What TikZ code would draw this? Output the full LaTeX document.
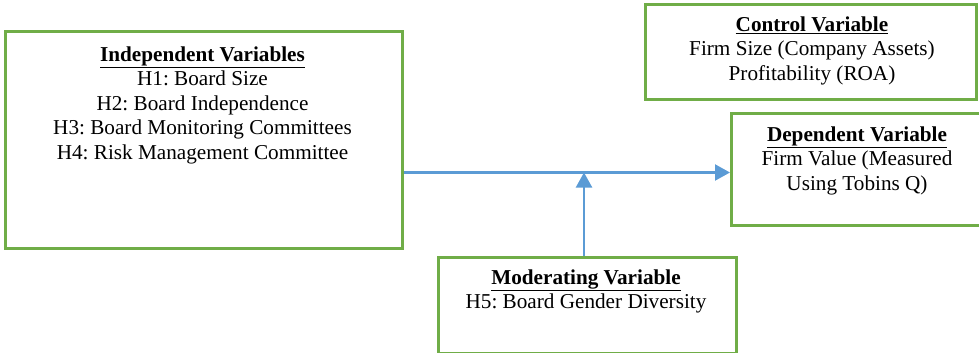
\documentclass[tikz,border=0pt]{standalone}
\usepackage{fontspec}
\setmainfont{Liberation Serif}
\usetikzlibrary{arrows.meta}
\definecolor{boxgreen}{HTML}{70AD47}
\definecolor{arrblue}{HTML}{5B9BD5}
\frenchspacing
\tikzset{
  varbox/.style={draw=boxgreen, line width=2.6pt, fill=white, inner sep=0pt, anchor=north west},
  vartext/.style={align=center, inner sep=0pt, anchor=base, font=\fontsize{21.2}{24.4}\selectfont},
  arr/.style={draw=arrblue, line width=2.2pt, -{Triangle[length=15pt,width=16pt]}}
}
\newcommand{\vtitle}[1]{\underline{\textbf{#1}}}
\begin{document}
\begin{tikzpicture}[x=1pt,y=-1pt]
\useasboundingbox (0,0) rectangle (979,353);
\begin{scope}
\clip (0,0) rectangle (979,353);
\node[varbox, minimum width=397pt, minimum height=217pt] (ind) at (4,30) {};
\node[varbox, minimum width=331pt, minimum height=95pt] (ctl) at (644,3) {};
\node[varbox, minimum width=264pt, minimum height=112pt] (dep) at (730,112) {};
\node[varbox, minimum width=298pt, minimum height=96pt] (mod) at (437,256) {};
\end{scope}
\node[vartext] (indt) at (202.5,159) {\vtitle{Independent Variables}\\H1: Board Size\\H2: Board Independence\\H3: Board Monitoring Committees\\H4: Risk Management Committee};
\node[vartext] (ctlt) at (812,80) {\vtitle{Control Variable}\\Firm Size (Company Assets)\\Profitability (ROA)};
\node[vartext] (dept) at (857,190) {\vtitle{Dependent Variable}\\Firm Value (Measured\\Using Tobins Q)};
\node[vartext] (modt) at (586,308.5) {\vtitle{Moderating Variable}\\H5: Board Gender Diversity};
\coordinate (j) at (584,172.5);
\draw[arr] (ind.east |- j) -- (dep.west |- j);
\draw[arr] (mod.north -| j) -- (j);
\end{tikzpicture}
\end{document}
